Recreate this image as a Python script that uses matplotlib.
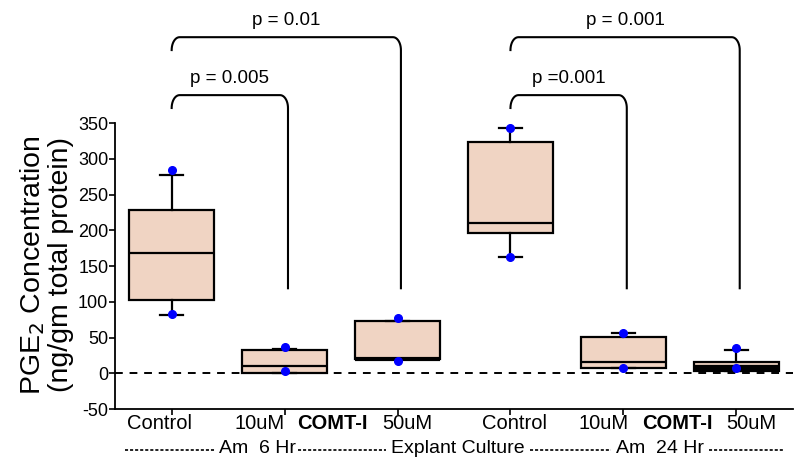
import matplotlib
matplotlib.use('Agg')
import matplotlib.pyplot as plt
import numpy as np

plt.rcParams['font.family'] = ['Liberation Sans', 'DejaVu Sans']
plt.rcParams['axes.unicode_minus'] = False

#---------------------------------------------------------
#Data
#---------------------------------------------------------
groups = ['Control', '10uM', '50uM', 'Control', '10uM', '50uM']
q1 = [102, 0, 20, 196, 7, 4]
med = [168, 10, 20, 210, 16, 7]
q3 = [228, 32, 73, 323, 51, 16]
whis_lo = [81, 0, 20, 163, 7, 4]
whis_hi = [278, 34, 73, 343, 57, 32]
dot_hi = [285, 37, 77, 343, 57, 36]
dot_lo = [83, 3, 18, 163, 8, 7]

# significance brackets: (left group, right group, height, label)
br_left = [1, 1, 4, 4]
br_right = [2, 3, 5, 6]
br_height = [389, 470, 389, 470]
br_label = ['p = 0.005', 'p = 0.01', 'p =0.001', 'p = 0.001']

# lower label row
row_words = ['Am  6 Hr', 'Explant Culture', 'Am  24 Hr']

fill_color = '#F0D4C3'

fig = plt.figure(figsize=(8, 4.66), dpi=100)
ax = fig.add_axes([0.144, 0.122, 0.847, 0.614])

pos = np.arange(1, len(groups) + 1)
stats = []
for i in range(len(groups)):
    stats.append({'med': med[i], 'q1': q1[i], 'q3': q3[i],
                  'whislo': whis_lo[i], 'whishi': whis_hi[i], 'fliers': []})

res = ax.bxp(stats, positions=pos, widths=0.75, capwidths=0.2,
             showfliers=False, patch_artist=True,
             boxprops=dict(facecolor=fill_color, edgecolor='black', linewidth=1.6),
             medianprops=dict(color='black', linewidth=1.6),
             whiskerprops=dict(color='black', linewidth=1.6),
             capprops=dict(color='black', linewidth=1.6))
res['medians'][2].set_linewidth(3)
res['medians'][5].set_linewidth(4.5)

ax.plot(pos, dot_hi, 'o', color='#0000FF', ms=5.5, zorder=5, clip_on=False)
ax.plot(pos, dot_lo, 'o', color='#0000FF', ms=5.5, zorder=5, clip_on=False)

ax.axhline(0, color='black', ls=(0, (4, 3.5)), lw=1.4, zorder=1)

ax.set_xlim(0.5, 6.5)
ax.set_ylim(-50, 350)
ax.set_yticks(np.arange(-50, 351, 50))
ax.set_xticks(pos)
ax.set_xticklabels([])
ax.tick_params(axis='y', labelsize=13, length=4, width=1.2, pad=1)
ax.tick_params(axis='x', length=4, width=1.2)
for s in ['top', 'right']:
    ax.spines[s].set_visible(False)
for s in ['left', 'bottom']:
    ax.spines[s].set_linewidth(1.3)

fig.text(46 / 800, 1 - 265 / 466, 'PGE$_2$ Concentration\n(ng/gm total protein)',
         rotation=90, ha='center', va='center', fontsize=20.5, linespacing=1.05)

# first label row: group names with COMT-I between the doses
lab_x = [0.89, 1.78, 3.09, 4.04, 4.82, 6.13]
for xc, name in zip(lab_x, groups):
    ax.text(xc, -57, name, ha='center', va='top', fontsize=14.5, clip_on=False)
for xc in [2.42, 5.48]:
    ax.text(xc, -57, 'COMT-I', ha='center', va='top', fontsize=14.5,
            fontweight='bold', clip_on=False)

# second label row: words joined by dashed runs
word_x = [1.756, 3.536, 5.325]
for xc, w in zip(word_x, row_words):
    ax.text(xc, -112, w, ha='center', va='baseline', fontsize=14, clip_on=False)
dash_runs = [(0.587, 1.384), (2.119, 2.898), (4.174, 4.891), (5.76, 6.414)]
for x0, x1 in dash_runs:
    ax.plot([x0, x1], [-107, -107], color='#111111', lw=1.3,
            ls=(0, (1.7, 1.1)), clip_on=False)

# brackets with rounded corners
bottom_y = 119
rx, ry = 0.07, 18
t = np.linspace(0, np.pi / 2, 12)
for xl, xr, h, lab in zip(br_left, br_right, br_height, br_label):
    xr = xr + 0.03
    left_x = xl + rx - rx * np.cos(t)
    left_y = h - ry + ry * np.sin(t)
    right_x = xr - rx + rx * np.sin(t)
    right_y = h - ry + ry * np.cos(t)
    xs = np.concatenate([left_x, right_x, [xr]])
    ys = np.concatenate([left_y, right_y, [bottom_y]])
    ax.plot(xs, ys, color='black', lw=1.5, clip_on=False)
    ax.text((xl + xr) / 2, h + 12, lab, ha='center', va='bottom', fontsize=13.5,
            clip_on=False)

plt.savefig('out.png', dpi=100)
